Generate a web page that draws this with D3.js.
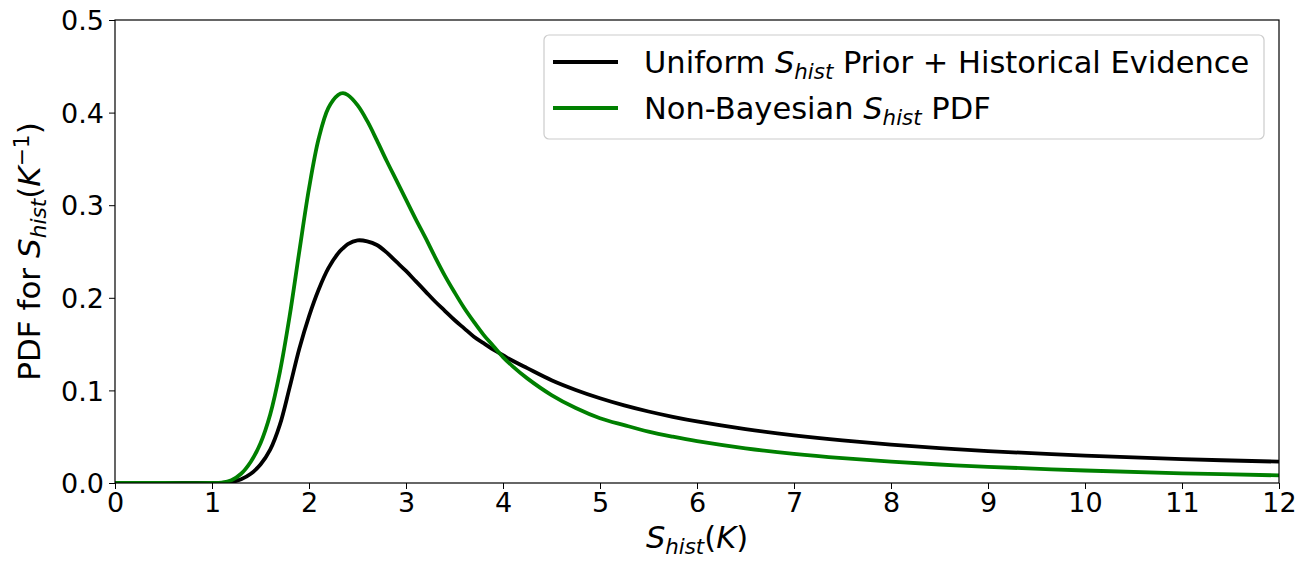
<!DOCTYPE html>
<html><head><meta charset="utf-8">
<script src="https://cdn.jsdelivr.net/npm/d3@7"></script>
<style>
html,body{margin:0;padding:0;background:#fff;}
svg text{font-family:"DejaVu Sans",sans-serif;fill:#000;}
</style></head>
<body><svg id="c" width="1315" height="562"></svg>
<script>
// ---- data ----
const xValues = [0,0.5,1.0,1.1,1.2,1.3,1.4,1.5,1.6,1.7,1.8,1.9,2.0,2.1,2.2,2.3,2.35,2.4,2.5,2.6,2.7,2.8,2.9,3.0,3.1,3.2,3.3,3.4,3.5,3.6,3.7,3.8,3.9,4.0,4.1,4.25,4.5,4.75,5.0,5.25,5.5,5.75,6.0,6.5,7.0,7.5,8.0,8.5,9.0,10.0,11.0,12.0];
const uniformPrior = [0,0,0,0,0.001,0.004,0.010,0.020,0.036,0.063,0.103,0.145,0.180,0.209,0.232,0.248,0.2535,0.258,0.262,0.261,0.257,0.249,0.239,0.229,0.218,0.207,0.196,0.186,0.176,0.167,0.158,0.151,0.144,0.138,0.132,0.124,0.111,0.1005,0.0915,0.0838,0.0772,0.0715,0.0665,0.0582,0.0515,0.0460,0.0415,0.0377,0.0345,0.0295,0.0258,0.0230];
const nonBayesian  = [0,0,0,0.0005,0.003,0.010,0.023,0.043,0.074,0.120,0.180,0.250,0.318,0.372,0.405,0.419,0.421,0.419,0.408,0.391,0.370,0.348,0.327,0.306,0.285,0.265,0.244,0.224,0.206,0.189,0.174,0.160,0.148,0.136,0.126,0.113,0.095,0.081,0.070,0.0625,0.0555,0.0500,0.0452,0.0375,0.0315,0.0268,0.0230,0.0200,0.0175,0.0135,0.0105,0.0082];
const xTicks = [0,1,2,3,4,5,6,7,8,9,10,11,12];
const yTicks = [0.0,0.1,0.2,0.3,0.4,0.5];
const seriesNames = ["Uniform", "Non-Bayesian"];
const seriesColors = ["#000000", "#008000"];

const W = 1315, H = 562;
const m = {left:115, right:36, top:20, bottom:79};
const svg = d3.select("#c");
const x = d3.scaleLinear().domain([0,12]).range([m.left, W-m.right]);
const y = d3.scaleLinear().domain([0,0.5]).range([H-m.bottom, m.top]);

svg.append("clipPath").attr("id","clip").append("rect")
  .attr("x",m.left).attr("y",m.top).attr("width",x(12)-x(0)).attr("height",y(0)-y(0.5));

const line = d3.line().x(d=>x(d[0])).y(d=>y(d[1])).curve(d3.curveCatmullRom.alpha(0.5));
const seriesData = [uniformPrior, nonBayesian];
seriesData.forEach((vals,i)=>{
  svg.append("path")
    .datum(xValues.map((xv,j)=>[xv, vals[j]]))
    .attr("d", line)
    .attr("fill","none")
    .attr("stroke", seriesColors[i])
    .attr("stroke-width", 3.8)
    .attr("stroke-linejoin","round")
    .attr("clip-path","url(#clip)");
});

// axes
const xAxis = d3.axisBottom(x).tickValues(xTicks).tickFormat(d3.format("d")).tickSize(6).tickPadding(4);
const yAxis = d3.axisLeft(y).tickValues(yTicks).tickFormat(d3.format(".1f")).tickSize(6).tickPadding(5);
const gx = svg.append("g").attr("transform",`translate(0,${y(0)})`).call(xAxis);
const gy = svg.append("g").attr("transform",`translate(${m.left},0)`).call(yAxis);
[gx,gy].forEach(g=>{
  g.select(".domain").remove();
  g.selectAll(".tick line").attr("stroke","#000").attr("stroke-width",1);
  g.selectAll(".tick text").attr("font-size",27).attr("font-family","DejaVu Sans").attr("fill","#000");
});
gy.selectAll(".tick text").attr("dy","0.36em");

// frame (spines)
svg.append("rect").attr("x",x(0)).attr("y",y(0.5)).attr("width",x(12)-x(0)).attr("height",y(0)-y(0.5))
  .attr("fill","none").attr("stroke","#000").attr("stroke-width",1.2);

function shist(t, fs){
  t.append("tspan").attr("font-style","italic").text("S");
  t.append("tspan").attr("font-style","italic").attr("font-size",fs*0.7).attr("dy",fs*0.2).text("hist");
  return t;
}

// x label
const XF = 30.5;
const xl = svg.append("text").attr("x",(x(0)+x(12))/2).attr("y",548).attr("text-anchor","middle").attr("font-size",XF);
shist(xl,XF);
xl.append("tspan").attr("dy",-XF*0.2).text("(");
xl.append("tspan").attr("font-style","italic").text("K");
xl.append("tspan").text(")");

// y label
const YF = 31;
const yl = svg.append("text").attr("transform",`translate(40,${(y(0)+y(0.5))/2}) rotate(-90)`).attr("text-anchor","middle").attr("font-size",YF);
yl.append("tspan").text("PDF for ");
shist(yl,YF);
yl.append("tspan").attr("dy",-YF*0.2).text("(");
yl.append("tspan").attr("font-style","italic").text("K");
yl.append("tspan").attr("font-size",YF*0.7).attr("dy",-YF*0.36).text("\u22121");
yl.append("tspan").attr("dy",YF*0.36).text(")");

// legend
const LF = 30.5;
const lg = svg.append("g");
lg.append("rect").attr("x",544).attr("y",35).attr("width",720).attr("height",104).attr("rx",5)
  .attr("fill","#fff").attr("fill-opacity",0.8).attr("stroke","#cccccc").attr("stroke-width",1.2);
const rows = [62,108];
seriesNames.forEach((n,i)=>{
  lg.append("line").attr("x1",553).attr("x2",618).attr("y1",rows[i]).attr("y2",rows[i])
    .attr("stroke",seriesColors[i]).attr("stroke-width",3.8);
  const t = lg.append("text").attr("x",644).attr("y",rows[i]+11).attr("font-size",LF);
  if(i===0){
    t.append("tspan").text("Uniform ");
    shist(t,LF);
    t.append("tspan").attr("dy",-LF*0.2).text(" Prior + Historical Evidence");
  } else {
    t.append("tspan").text("Non-Bayesian ");
    shist(t,LF);
    t.append("tspan").attr("dy",-LF*0.2).text(" PDF");
  }
});
</script></body></html>
